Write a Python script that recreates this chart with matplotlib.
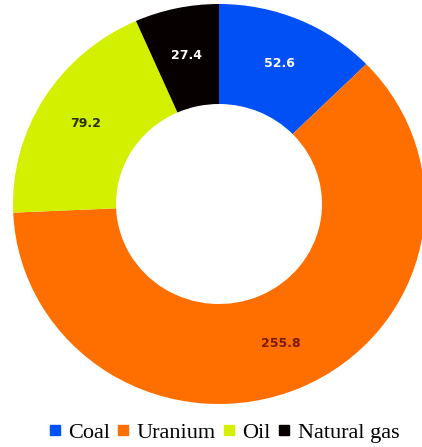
import matplotlib.pyplot as plt
from matplotlib.lines import Line2D

plt.rcParams["font.family"] = ["Liberation Serif", "DejaVu Serif"]

# datos del gráfico
fuels = ["Coal", "Uranium", "Oil", "Natural gas"]
values = [52.6, 255.8, 79.2, 27.4]
colors = ["#0050F5", "#FF6F00", "#D2F000", "#060000"]
label_colors = ["white", "#7A1A00", "#2A3000", "white"]

fig = plt.figure(figsize=(4.22, 4.47), dpi=100)
ax = fig.add_axes([13 / 422, 43 / 447, 412 / 422, 400 / 447])

wedges, texts, autotexts = ax.pie(
    values, colors=colors, startangle=90, counterclock=False,
    radius=1.0, wedgeprops=dict(width=0.5, linewidth=0),
    autopct=lambda p: "%.1f" % (p * sum(values) / 100.0),
    pctdistance=0.76,
    textprops=dict(family="DejaVu Sans"))

for t, c in zip(autotexts, label_colors):
    t.set_color(c)
    t.set_fontsize(9)
    t.set_fontweight("bold")

ax.set_aspect("auto")
ax.set_xlim(-1, 1)
ax.set_ylim(-1, 1)
ax.axis("off")

handles = [Line2D([], [], marker="s", linestyle="none", color=c,
                  markersize=7) for c in colors]
fig.legend(handles, fuels, loc="center", bbox_to_anchor=(0.53, 0.032),
           ncol=4, frameon=False, handlelength=0.6, handletextpad=0.3,
           columnspacing=0.3, fontsize=16)

plt.savefig("out.png", dpi=100)
